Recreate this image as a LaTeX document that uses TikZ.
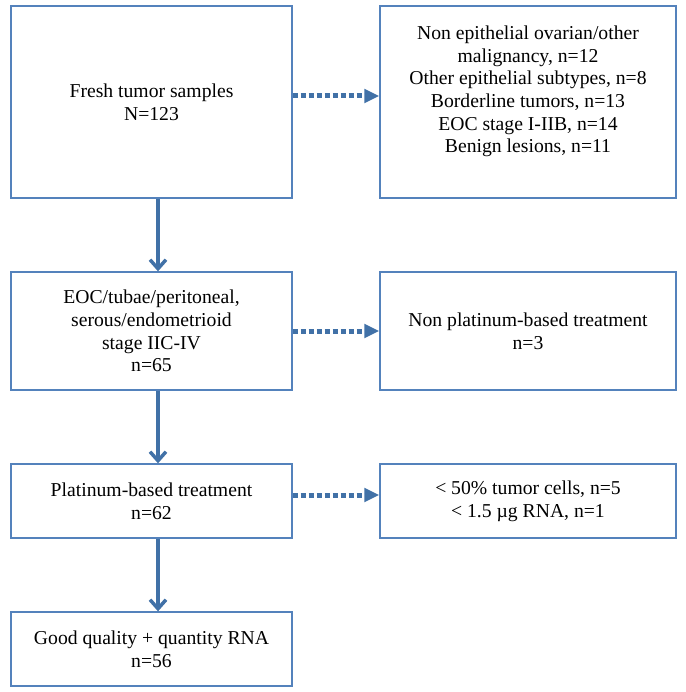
\documentclass[tikz,border=0pt]{standalone}
\usepackage{fontspec}
\setmainfont{Liberation Serif}
\usetikzlibrary{arrows.meta}
\definecolor{boxblue}{RGB}{84,130,188}
\definecolor{arrowblue}{RGB}{65,113,167}

\begin{document}
\begin{tikzpicture}[x=0.6pt, y=-0.6pt,
    box/.style={draw=boxblue, line width=0.8pt, align=center, inner sep=0pt,
      font=\fontsize{11.8}{13.6}\selectfont},
    leftbox/.style={box, minimum width=168.6pt},
    rightbox/.style={box, minimum width=177.6pt},
    flow/.style={draw=arrowblue, line width=2.1pt, -{Straight Barb[length=5.4pt, width=9.6pt]}},
    exclude/.style={draw=arrowblue, line width=3pt, dash pattern=on 3pt off 1.8pt,
      -{Triangle[length=9pt, width=8pt]}}]
  \useasboundingbox (0, 0) rectangle (685, 692);
  %%row 1
  \node[leftbox, minimum height=115.2pt] (fresh) at (151.5, 102) {Fresh tumor samples\\N=123};
  \node[rightbox, minimum height=115.2pt] (other) at (528, 102)
    {Non epithelial ovarian/other\\malignancy, n=12\\Other epithelial subtypes, n=8\\
     Borderline tumors, n=13\\EOC stage I-IIB, n=14\\Benign lesions, n=11\rule[-15pt]{0pt}{15pt}};
  %%row 2
  \node[leftbox, minimum height=70.8pt] (eoc) at (151.5, 331)
    {EOC/tubae/peritoneal,\\serous/endometrioid\\stage IIC-IV\\n=65};
  \node[rightbox, minimum height=70.8pt] (nonplat) at (528, 331)
    {Non platinum-based treatment\\n=3};
  %%row 3
  \node[leftbox, minimum height=44.4pt] (plat) at (151.5, 501) {Platinum-based treatment\\n=62};
  \node[rightbox, minimum height=44.4pt] (lowrna) at (528, 501)
    {< 50\% tumor cells, n=5\\< 1.5 µg RNA, n=1};
  %%row 4
  \node[leftbox, minimum height=44.4pt] (good) at (151.5, 649) {Good quality + quantity RNA\\n=56};

  %%down
  \draw[flow] ([xshift=3.9pt]fresh.south) -- ([xshift=3.9pt]eoc.north);
  \draw[flow] ([xshift=3.9pt]eoc.south) -- ([xshift=3.9pt]plat.north);
  \draw[flow] ([xshift=3.9pt]plat.south) -- ([xshift=3.9pt]good.north);
  %%out
  \draw[exclude] ([yshift=3.6pt]fresh.east) -- ([yshift=3.6pt]other.west);
  \draw[exclude] (eoc.east) -- (nonplat.west);
  \draw[exclude] ([yshift=3.6pt]plat.east) -- ([yshift=3.6pt]lowrna.west);
\end{tikzpicture}
\end{document}
